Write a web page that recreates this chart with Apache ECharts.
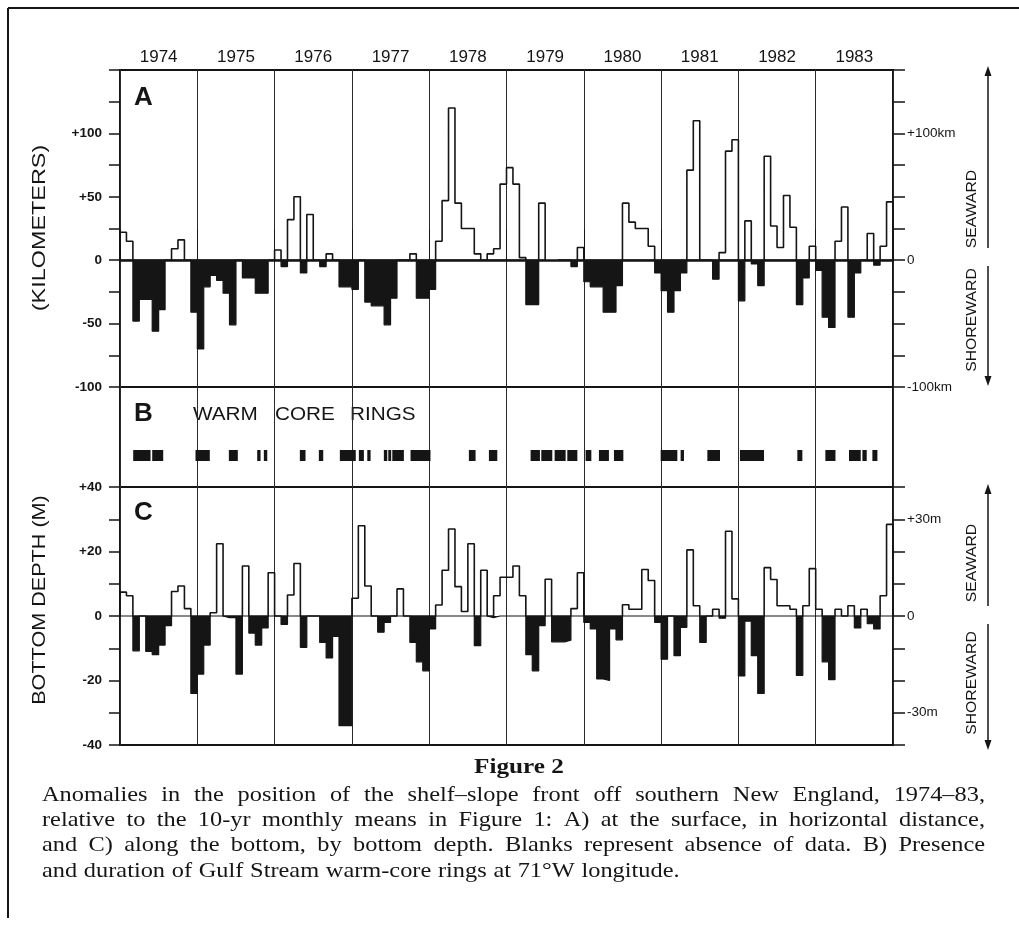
<!DOCTYPE html>
<html><head><meta charset="utf-8">
<script src="https://cdn.jsdelivr.net/npm/echarts@6/dist/echarts.min.js"></script>
<style>html,body{margin:0;padding:0;background:#fff}#c{width:1019px;height:938px}</style>
</head><body><div id="c"></div>
<script>
// ---------------- DATA ----------------
const years = ['1974','1975','1976','1977','1978','1979','1980','1981','1982','1983'];

// Panel A: surface front anomaly (km), monthly Jan 1974 .. Dec 1983 (null = no data)
const surfaceKm = [
  22, 15, -48, -31, -31, -56, -39, 0, 9, 16, 0, -41,          // 1974
  -70, -21, -12, -16, -26, -51, 0, -14, -14, -26, -26, 0,     // 1975
  8, -5, 32, 50, -10, 36, 0, -5, 5, 0, -21, -21,              // 1976
  -23, 0, -33, -36, -36, -51, -30, 0, 0, 5, -30, -30,         // 1977
  -23, 15, 47, 120, 45, 25, 25, 5, 0, 5, 9, 60,               // 1978
  73, 60, 2, -35, -35, 45, null, null, 0, 0, -5, 10,          // 1979
  -17, -21, -21, -41, -41, -20, 45, 30, 25, 25, 11, -10,      // 1980
  -24, -41, -24, -10, 71, 110, 0, 0, -15, 6, 86, 95,          // 1981
  -32, 31, -3, -20, 82, 27, 10, 51, 26, -35, -14, 11,         // 1982
  -8, -45, -53, 15, 42, -45, -10, 0, 21, -4, 11, 46           // 1983
];

// Panel C: bottom front anomaly (m of bottom depth), monthly
const bottomM = [
  7.4, 6.3, -10.8, 0, -11, -12, -9, -3, 7.6, 9.3, 2.3, -24,           // 1974
  -18, -9, 1, 22.4, -0.5, -0.5, -18, 15.5, -5.3, -9, -3.7, 13.4,      // 1975
  0, -2.6, 6.5, 16.3, -9.7, 0, 0, -8.2, -13, -6.3, -34, -34,          // 1976
  5.5, 28, 9.3, 0, -5, -2, 0, 8.4, 0, -8.2, -14.2, -17,               // 1977
  -4, 3.4, 14.2, 27, 9.1, 1.4, 22.4, -9.2, 14.2, -0.5, 6.3, 12,       // 1978
  12, 15.5, 6.3, -12, -17, -3, 11.4, -8, -8, -7.5, 2.3, 13.4,         // 1979
  -2, -4, -19.5, -20, -4, -7.4, 3.5, 2.1, 2.1, 14.4, 11, -2,          // 1980
  -13.4, 0, -12.3, -3.5, 20.5, 3.2, -8.2, 0, 2.1, -0.7, 26.3, 5.3,    // 1981
  -18.6, -1.6, -12.3, -24, 15, 11.3, 3.2, 3.2, 2.1, -18.4, 3.2, 14.7, // 1982
  2.1, -14.2, -19.7, 2.1, 0, 3.2, -3.7, 2.1, -2.4, -4, 6.3, 28.4      // 1983
];

// Panel B: warm-core ring presence, [start, end] in months since Jan 1974
const warmCoreRings = [
  [2.05,4.74],[5.0,6.71],[11.72,13.94],[16.9,18.29],[21.3,21.82],[22.33,22.86],
  [27.92,28.8],[30.87,31.55],[34.13,36.6],[37.08,37.86],[38.39,38.9],
  [40.96,41.49],[41.65,42.1],[42.27,44.07],[45.1,48.2],[54.16,55.2],[57.27,58.57],
  [63.74,65.19],[65.4,67.11],[67.47,69.18],[69.44,71.0],[72.28,73.17],[74.35,75.9],[76.68,78.14],
  [83.93,86.52],[87.03,87.55],[91.18,93.14],[96.24,99.97],[105.15,105.93],
  [109.5,111.07],[113.17,114.99],[115.25,115.92],[116.8,117.58]
];

// Tick labels
const kmLeftLabels = [[100,'+100'],[50,'+50'],[0,'0'],[-50,'-50'],[-100,'-100']];
const kmRightLabels = [[100,'+100km'],[0,'0'],[-100,'-100km']];
const mLeftLabels = [[40,'+40'],[20,'+20'],[0,'0'],[-20,'-20'],[-40,'-40']];
const mRightLabels = [[30,'+30m'],[0,'0'],[-30,'-30m']];

const captionTitle = 'Figure 2';
const captionLines = [
  'Anomalies in the position of the shelf–slope front off southern New England, 1974–83,',
  'relative to the 10-yr monthly means in Figure 1: A) at the surface, in horizontal distance,',
  'and C) along the bottom, by bottom depth. Blanks represent absence of data. B) Presence',
  'and duration of Gulf Stream warm-core rings at 71°W longitude.'
];

// ---------------- BUILD ----------------
const INK = '#151515';
const SANS = '"Liberation Sans", "DejaVu Sans", sans-serif';
const SERIF = '"Liberation Serif", "DejaVu Serif", serif';

function stepPoints(vals, sign) {
  const pts = [];
  for (let i = 0; i < vals.length; i++) {
    const v = vals[i];
    if (v == null) { pts.push([i, '-']); continue; }
    const w = sign > 0 ? Math.max(v, 0) : Math.min(v, 0);
    const prevNull = i === 0 || vals[i - 1] == null;
    const nextNull = i === vals.length - 1 || vals[i + 1] == null;
    if (prevNull) pts.push([i, 0]);
    pts.push([i, w]); pts.push([i + 1, w]);
    if (nextNull) pts.push([i + 1, 0]);
  }
  return pts;
}
const mapOf = arr => { const m = {}; arr.forEach(([k, t]) => m[k] = t); return m; };
const kmL = mapOf(kmLeftLabels), kmR = mapOf(kmRightLabels), mL = mapOf(mLeftLabels), mR = mapOf(mRightLabels);

const GL = 120, GW = 773;
const gridBase = { left: GL, width: GW, show: true, borderColor: INK, borderWidth: 2, containLabel: false, outerBoundsMode: 'none' };

function valueX(gi) {
  return { gridIndex: gi, type: 'value', min: 0, max: 120, interval: 12, position: 'bottom',
    axisLine: { show: false }, axisTick: { show: false }, axisLabel: { show: false },
    splitLine: { show: true, lineStyle: { color: '#2a2a2a', width: 1 } } };
}
function yAx(gi, pos, min, max, interval, map, margin, bold) {
  return { gridIndex: gi, type: 'value', position: pos, min, max, interval,
    axisLine: { show: false },
    axisTick: { show: true, inside: false, length: pos === 'left' ? 11 : 12, lineStyle: { color: INK, width: 1.5 } },
    axisLabel: { show: true, margin, hideOverlap: false, showMinLabel: true, showMaxLabel: true,
      formatter: v => (map[v] !== undefined ? map[v] : ''),
      fontFamily: SANS, fontSize: 13.5, fontWeight: bold ? 'bold' : 'normal', color: INK },
    splitLine: { show: false } };
}

const graphics = [];
function txt(x, y, text, font, sx, align) {
  graphics.push({ type: 'text', x, y, scaleX: sx || 1, silent: true,
    style: { text, font, fill: INK, align: align || 'left', verticalAlign: 'middle', textAlign: align || 'left', textVerticalAlign: 'middle' } });
}
function rtxt(x, y, text, font, sx) {
  graphics.push({ type: 'text', x, y, rotation: Math.PI / 2, scaleX: sx || 1, silent: true,
    style: { text, font, fill: INK, align: 'center', verticalAlign: 'middle', textAlign: 'center', textVerticalAlign: 'middle' } });
}
function ln(x1, y1, x2, y2, w) {
  graphics.push({ type: 'line', silent: true, shape: { x1, y1, x2, y2 }, style: { stroke: INK, lineWidth: w || 1.5 } });
}
function head(x, y, dir) {
  const d = dir === 'up' ? 1 : -1;
  graphics.push({ type: 'polygon', silent: true, shape: { points: [[x, y], [x - 3.5, y + 10 * d], [x + 3.5, y + 10 * d]] }, style: { fill: INK } });
}

// frame
ln(8, 8, 1019, 8, 2); ln(8, 8, 8, 918, 2);
// panel letters
txt(134, 98, 'A', 'bold 26px ' + SANS);
txt(134, 414, 'B', 'bold 26px ' + SANS);
txt(134, 513, 'C', 'bold 26px ' + SANS);
txt(193, 415, 'WARM', '18px ' + SANS, 1.15);
txt(275, 415, 'CORE', '18px ' + SANS, 1.15);
txt(350, 415, 'RINGS', '18px ' + SANS, 1.15);
// left titles
rtxt(40, 228, '(KILOMETERS)', '18px ' + SANS, 1.3);
rtxt(40, 600, 'BOTTOM DEPTH (M)', '18px ' + SANS, 1.2);
// right side arrows and labels
rtxt(972, 209, 'SEAWARD', '15px ' + SANS, 1.05);
rtxt(972, 320, 'SHOREWARD', '15px ' + SANS, 1.05);
rtxt(972, 563, 'SEAWARD', '15px ' + SANS, 1.05);
rtxt(972, 683, 'SHOREWARD', '15px ' + SANS, 1.05);
ln(988, 74, 988, 248); head(988, 66, 'up');
ln(988, 266, 988, 378); head(988, 386, 'down');
ln(988, 492, 988, 606); head(988, 484, 'up');
ln(988, 624, 988, 742); head(988, 750, 'down');

// caption
const mctx = document.createElement('canvas').getContext('2d');
const CAP_FONT = '21px ' + SERIF;
const CAP_SX = 1.16;
txt(519, 768, captionTitle, 'bold 21px ' + SERIF, 1.2, 'center');
const capY = [795, 820, 845, 871];
captionLines.forEach((line, li) => {
  mctx.font = CAP_FONT;
  const words = line.split(' ');
  const ws = words.map(w => mctx.measureText(w).width * CAP_SX);
  const sum = ws.reduce((a, b) => a + b, 0);
  const last = li === captionLines.length - 1;
  const gap = last ? mctx.measureText(' ').width * CAP_SX * 1.1 : (985 - 42 - sum) / (words.length - 1);
  let x = 42;
  words.forEach((w, i) => { txt(x, capY[li], w, CAP_FONT, CAP_SX); x += ws[i] + gap; });
});

const option = {
  animation: false,
  backgroundColor: '#ffffff',
  grid: [
    Object.assign({ top: 70, height: 317 }, gridBase),
    Object.assign({ top: 387, height: 100 }, gridBase),
    Object.assign({ top: 487, height: 258 }, gridBase)
  ],
  xAxis: [
    { gridIndex: 0, type: 'category', position: 'top', data: years, boundaryGap: true,
      axisLine: { show: true, lineStyle: { color: INK, width: 2.5 } },
      axisTick: { show: true, interval: 0, length: 31, inside: false, lineStyle: { color: INK, width: 1 } },
      axisLabel: { show: true, interval: 0, margin: 4, fontFamily: SANS, fontSize: 17, color: INK },
      splitLine: { show: false } },
    valueX(0), valueX(1), valueX(2)
  ],
  yAxis: [
    yAx(0, 'left', -100, 150, 25, kmL, 18, true),
    yAx(0, 'right', -100, 150, 25, kmR, 14, false),
    { gridIndex: 1, type: 'value', min: 0, max: 1, show: false },
    yAx(2, 'left', -40, 40, 10, mL, 18, true),
    yAx(2, 'right', -40, 40, 10, mR, 14, false)
  ],
  series: [
    { type: 'line', xAxisIndex: 1, yAxisIndex: 0, data: stepPoints(surfaceKm, -1), symbol: 'none',
      lineStyle: { color: INK, width: 1.2 }, areaStyle: { color: INK, opacity: 1, origin: 0 }, connectNulls: false, z: 3 },
    { type: 'line', xAxisIndex: 1, yAxisIndex: 0, data: stepPoints(surfaceKm, 1), symbol: 'none',
      lineStyle: { color: INK, width: 1.6 }, connectNulls: false, z: 4 },
    { type: 'custom', xAxisIndex: 2, yAxisIndex: 2, data: warmCoreRings, encode: { x: [0, 1] },
      renderItem: (params, api) => {
        const p1 = api.coord([api.value(0), 0.37]);
        const p2 = api.coord([api.value(1), 0.26]);
        return { type: 'rect', shape: { x: p1[0], y: p1[1], width: p2[0] - p1[0], height: p2[1] - p1[1] }, style: { fill: INK } };
      } },
    { type: 'line', xAxisIndex: 3, yAxisIndex: 3, data: stepPoints(bottomM, -1), symbol: 'none',
      lineStyle: { color: INK, width: 1.2 }, areaStyle: { color: INK, opacity: 1, origin: 0 }, connectNulls: false, z: 3 },
    { type: 'line', xAxisIndex: 3, yAxisIndex: 3, data: stepPoints(bottomM, 1), symbol: 'none',
      lineStyle: { color: INK, width: 1.6 }, connectNulls: false, z: 4 }
  ],
  graphic: { elements: graphics }
};

const chart = echarts.init(document.getElementById('c'), null, { renderer: 'canvas' });
chart.setOption(option);
</script>
</body></html>
